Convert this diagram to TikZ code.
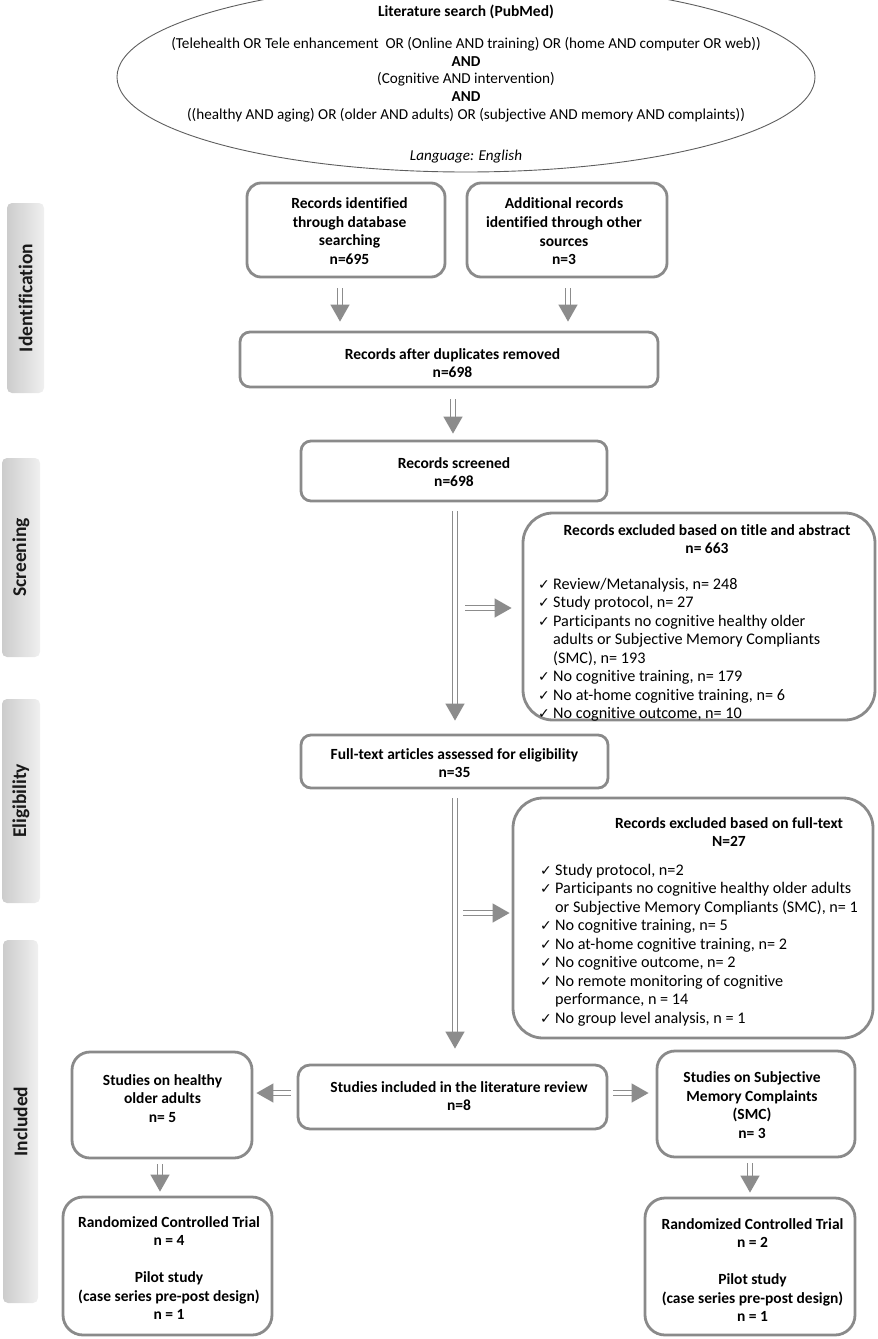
\documentclass[tikz,border=0pt]{standalone}
\usepackage{fontspec}
\setmainfont{Carlito}[Ligatures=CommonOff]
\newfontfamily\symfont{DejaVu Sans}
\usetikzlibrary{arrows.meta,shapes.geometric}
\definecolor{bord}{HTML}{8A8A8A}
\definecolor{arr}{HTML}{8C8C8C}
\definecolor{elg}{HTML}{5E5E5E}
\newcommand{\ck}{\makebox[15pt][l]{\symfont\fontsize{14}{12}\selectfont ✓}}
\newcommand{\ind}{\hspace*{15pt}}
\begin{document}
\begin{tikzpicture}[x=1pt,y=-1pt,
  box/.style={draw=bord, line width=2.8pt, rounded corners=#1, inner sep=0pt, fill=white},
  box/.default=12pt,
  btxt/.style={align=center, inner sep=0pt, font=\bfseries\fontsize{15.5}{18.6}\selectfont},
  ltxt/.style={align=left, inner sep=0pt, anchor=west, font=\fontsize{16.2}{18.5}\selectfont},
  side/.style={left color=gray!40, right color=gray!12, rounded corners=5pt, inner sep=0pt},
  sidetext/.style={rotate=90, inner sep=0pt, font=\bfseries\fontsize{19.5}{22}\selectfont, text=black!90},
  dbl/.style={draw=arr, line width=1.3pt, double=white, double distance=3.2pt, -{Triangle[length=17pt,width=19pt]}}
]
\useasboundingbox (0,0) rectangle (878,1339);

% search ellipse
\node[draw=elg, line width=0.9pt, ellipse, minimum width=698pt, minimum height=190pt, inner sep=0pt] (search) at (466,77) {};
\node[inner sep=0pt, font=\bfseries\fontsize{15.5}{17}\selectfont] (stitle) at (466,12) {Literature search (PubMed)};
\node[inner sep=0pt, align=center, font=\fontsize{15.2}{17.75}\selectfont] (sbody) at (466,79.5)
  {(Telehealth OR Tele enhancement \ OR (Online AND training) OR (home AND computer OR web))\\
   \textbf{AND}\\ (Cognitive AND intervention)\\ \textbf{AND}\\
   ((healthy AND aging) OR (older AND adults) OR (subjective AND memory AND complaints))};
\node[inner sep=0pt, font=\itshape\fontsize{15.1}{17}\selectfont] (slang) at (466,157) {Language: English};

% side labels
\node[side, minimum width=37pt, minimum height=190pt] (sid) at (25.5,298) {};
\node[sidetext] (sidt) at (sid.center) {Identification};
\node[side, minimum width=38pt, minimum height=199pt] (ssc) at (21,557.5) {};
\node[sidetext] (ssct) at (ssc.center) {Screening};
\node[side, minimum width=38pt, minimum height=204pt] (sel) at (21,801) {};
\node[sidetext] (selt) at (sel.center) {Eligibility};
\node[side, minimum width=35pt, minimum height=363pt] (sin) at (20.5,1121.5) {};
\node[sidetext] (sint) at (sin.center) {Included};

% boxes
\node[box=14pt, minimum width=198pt, minimum height=94pt] (db) at (346,230) {};
\node[btxt] at (349.5,231) {Records identified\\through database\\searching\\n=695};
\node[box=14pt, minimum width=200pt, minimum height=94pt] (add) at (567,230) {};
\node[btxt] at (564,231.5) {Additional records\\identified through other\\sources\\n=3};
\node[box=10pt, minimum width=418pt, minimum height=55pt] (dup) at (449,359.5) {};
\node[btxt] at (452.5,363) {Records after duplicates removed\\n=698};
\node[box=10pt, minimum width=306pt, minimum height=60pt] (scr) at (454,471) {};
\node[btxt] at (454,472) {Records screened\\n=698};
\node[box=30pt, minimum width=352pt, minimum height=207pt] (exc1) at (699,616.5) {};
\node[btxt] at (707,539) {Records excluded based on title and abstract\\n= 663};
\node[ltxt] at (538,650) {\ck Review/Metanalysis, n= 248\\
\ck Study protocol, n= 27\\
\ck Participants no cognitive healthy older\\
\ind adults or Subjective Memory Compliants\\
\ind (SMC), n= 193\\
\ck No cognitive training, n= 179\\
\ck No at-home cognitive training, n= 6\\
\ck No cognitive outcome, n= 10};
\node[box=10pt, minimum width=307pt, minimum height=53pt] (full) at (454.5,761.5) {};
\node[btxt] at (454.5,763) {Full-text articles assessed for eligibility\\n=35};
\node[box=30pt, minimum width=360pt, minimum height=240pt] (exc2) at (693,918) {};
\node[btxt] at (729,832) {Records excluded based on full-text\\N=27};
\node[ltxt] at (540,945) {\ck Study protocol, n=2\\
\ck Participants no cognitive healthy older adults\\
\ind or Subjective Memory Compliants (SMC), n= 1\\
\ck No cognitive training, n= 5\\
\ck No at-home cognitive training, n= 2\\
\ck No cognitive outcome, n= 2\\
\ck No remote monitoring of cognitive\\
\ind performance, n = 14\\
\ck No group level analysis, n = 1};
\node[box=12pt, minimum width=309pt, minimum height=64pt] (incl) at (452.5,1097) {};
\node[btxt] at (459,1096) {Studies included in the literature review\\n=8};
\node[box=18pt, minimum width=180pt, minimum height=106pt] (hea) at (162,1105) {};
\node[btxt] at (162.5,1098.5) {Studies on healthy\\older adults\\n= 5};
\node[box=18pt, minimum width=198pt, minimum height=106pt] (smc) at (756,1104) {};
\node[btxt] at (752,1105) {Studies on Subjective\\Memory Complaints\\(SMC)\\n= 3};
\node[box=20pt, minimum width=209pt, minimum height=138pt] (rct1) at (167.5,1266) {};
\node[btxt] at (169,1268) {Randomized Controlled Trial\\n = 4\\[18.5pt]Pilot study\\(case series pre-post design)\\n = 1};
\node[box=20pt, minimum width=210pt, minimum height=137pt] (rct2) at (750,1266.5) {};
\node[btxt] at (752.5,1270) {Randomized Controlled Trial\\n = 2\\[18.5pt]Pilot study\\(case series pre-post design)\\n = 1};

% connectors
\draw[dbl, shorten <=10pt, shorten >=9pt] ([xshift=-6pt]db.south) -- ([xshift=-6pt]db.south |- dup.north);
\draw[dbl, shorten <=10pt, shorten >=9pt] ([xshift=1pt]add.south) -- ([xshift=1pt]add.south |- dup.north);
\draw[dbl, shorten <=11pt, shorten >=6pt] ([xshift=4pt]dup.south) -- ([xshift=4pt]dup.south |- scr.north);
\draw[dbl, shorten <=9pt, shorten >=13pt] ([xshift=1pt]scr.south) -- ([xshift=1pt]scr.south |- full.north);
\coordinate (j1) at (465,608);
\draw[dbl, shorten >=10pt] (j1) -- (exc1.west |- j1);
\draw[dbl, shorten <=9pt, shorten >=15pt] ([xshift=0.5pt]full.south) -- ([xshift=0.5pt]full.south |- incl.north);
\coordinate (j2) at (463,913);
\draw[dbl, shorten >=2pt] (j2) -- (exc2.west |- j2);
\draw[dbl, shorten <=6pt, shorten >=3pt] ([yshift=4pt]incl.west) -- ([yshift=4pt]incl.west -| hea.east);
\draw[dbl, shorten <=5pt, shorten >=7pt] ([yshift=4pt]incl.east) -- ([yshift=4pt]incl.east -| smc.west);
\draw[dbl, shorten <=5pt, shorten >=4pt] ([xshift=-2pt]hea.south) -- ([xshift=-2pt]hea.south |- rct1.north);
\draw[dbl, shorten <=5pt, shorten >=4pt] ([xshift=-6pt]smc.south) -- ([xshift=-6pt]smc.south |- rct2.north);
\end{tikzpicture}
\end{document}
